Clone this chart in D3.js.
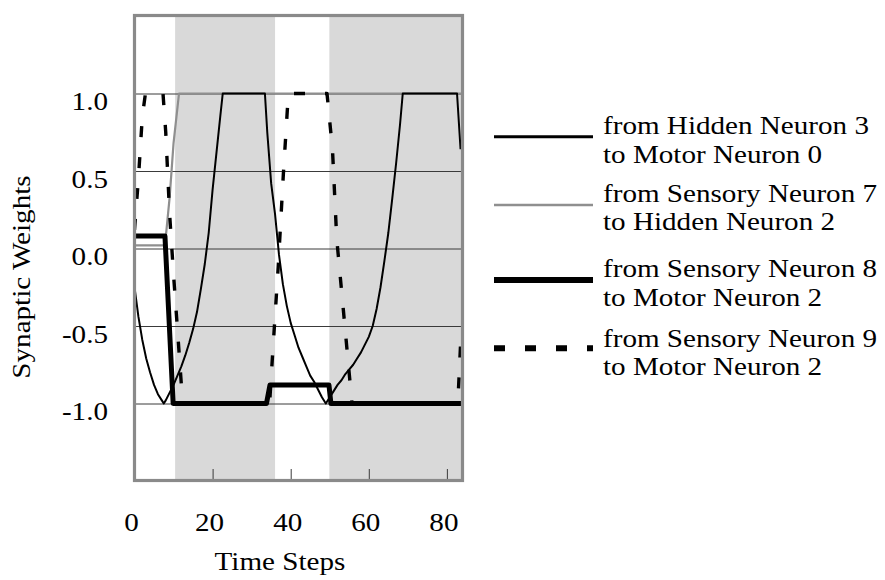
<!DOCTYPE html>
<html>
<head>
  <title>Synaptic Weights</title>
  <script src="https://d3js.org/d3.v7.min.js"></script>
  <style>
    body { margin: 0; background: #fff; }
    text { font-family: "Liberation Serif", "Times New Roman", serif; font-size: 26px; fill: #000; }
  </style>
</head>
<body>
  <div id="chart"></div>

  <script>
    // values
    var xTickValues = [20, 40, 60, 80];
    var xTickLabels = [0, 20, 40, 60, 80];
    var yTickValues = [-1, -0.5, 0, 0.5, 1];
    var yTickLabels = ['-1.0', '-0.5', '0.0', '0.5', '1.0'];
    var shadedPeriods = [[10.4, 36], [49.9, 84]];

    var seriesNames = [
      ['from Hidden Neuron 3', 'to Motor Neuron 0'],
      ['from Sensory Neuron 7', 'to Hidden Neuron 2'],
      ['from Sensory Neuron 8', 'to Motor Neuron 2'],
      ['from Sensory Neuron 9', 'to Motor Neuron 2']
    ];

    // [time step, weight]
    var hidden3ToMotor0 = [
      [0, -0.25], [1, -0.44], [2, -0.59], [3, -0.71], [4, -0.80], [5, -0.88], [6, -0.94], [7, -0.98],
      [7.5, -1.0], [8, -0.98], [9, -0.93], [10, -0.88], [11, -0.82], [12, -0.76], [13, -0.69],
      [14, -0.61], [15, -0.52], [16, -0.41], [17, -0.26], [18, -0.1], [19, 0.1], [20, 0.38],
      [21, 0.62], [22, 0.86], [22.6, 1.0], [33.4, 1.0], [34, 0.75], [35, 0.42], [36, 0.22],
      [37, -0.04], [38, -0.23], [39, -0.37], [40, -0.48], [41, -0.56], [42, -0.64], [43, -0.70],
      [44, -0.76], [45, -0.82], [46, -0.86], [47, -0.91], [48, -0.96], [49, -1.0], [50, -0.96],
      [51, -0.92], [52, -0.88], [53, -0.85], [54, -0.81], [55, -0.78], [56, -0.75], [57, -0.71],
      [58, -0.67], [59, -0.62], [60, -0.57], [61, -0.5], [62, -0.39], [63, -0.25], [64, -0.08],
      [65, 0.1], [66, 0.32], [67, 0.55], [68, 0.8], [68.7, 1.0], [82.6, 1.0], [83.5, 0.64]
    ];
    var sensory7ToHidden2 = [
      [0, 0.02], [7.8, 0.02], [9, 0.33], [10, 0.68], [11.4, 1.0], [84, 1.0]
    ];
    var sensory8ToMotor2 = [
      [0, 0.08], [7.8, 0.08], [9.9, -1.0], [33.8, -1.0], [34.7, -0.88], [49.8, -0.88], [50.3, -1.0], [84, -1.0]
    ];
    var sensory9ToMotor2 = [
      [0, 0.12], [1, 0.45], [2, 0.85], [2.8, 1.0], [7.3, 1.0], [8, 0.75], [9, 0.22], [10, -0.17],
      [11, -0.52], [12, -0.88], [12.4, -1.0], [34.6, -1.0], [35.3, -0.71], [36.8, -0.12], [38.1, 0.47],
      [39.4, 1.0], [49.3, 1.0], [50.7, 0.64], [51.8, 0.06], [53.5, -0.4], [55.7, -1.0], [82.8, -1.0],
      [83.5, -0.62]
    ];

    var W = 885, H = 580;
    var plot = { left: 134.5, right: 462.5, top: 16, bottom: 481 };

    var svg = d3.select('#chart').append('svg')
      .attr('width', W)
      .attr('height', H);

    var x = d3.scaleLinear().domain([0, 84]).range([plot.left, plot.right]);
    var y = d3.scaleLinear().domain([-1.5, 1.5]).range([plot.bottom, plot.top]);

    // Times on the original is a bit wider than Liberation Serif
    function addText(parent, px, py, str, anchor, rotate) {
      return parent.append('text')
        .attr('transform', 'translate(' + px + ',' + py + ')' + (rotate ? ' rotate(-90)' : '') + ' scale(1.12,1)')
        .attr('text-anchor', anchor)
        .text(str);
    }

    svg.append('defs').append('clipPath').attr('id', 'plot-clip')
      .append('rect')
      .attr('x', plot.left).attr('y', plot.top)
      .attr('width', plot.right - plot.left).attr('height', plot.bottom - plot.top);

    // shaded periods
    svg.selectAll('.shade')
      .data(shadedPeriods)
      .enter()
      .append('rect')
      .attr('class', 'shade')
      .attr('x', function(d) { return x(d[0]); })
      .attr('y', plot.top)
      .attr('width', function(d) { return x(d[1]) - x(d[0]); })
      .attr('height', plot.bottom - plot.top)
      .attr('fill', '#d9d9d9');

    // horizontal grid
    var grid = svg.append('g')
      .attr('transform', 'translate(' + plot.left + ',0)')
      .call(d3.axisLeft(y).tickValues(yTickValues).tickSize(-(plot.right - plot.left)).tickFormat(''));
    grid.select('.domain').remove();
    grid.selectAll('line').attr('stroke', '#3a3a3a').attr('stroke-width', 1);

    // x tick marks, inside the frame
    var xAxis = svg.append('g')
      .attr('transform', 'translate(0,' + plot.bottom + ')')
      .call(d3.axisTop(x).tickValues(xTickValues).tickSize(12).tickFormat(''));
    xAxis.select('.domain').remove();
    xAxis.selectAll('line').attr('stroke', '#3a3a3a').attr('stroke-width', 1);

    // series
    var line = d3.line()
      .x(function(d) { return x(d[0]); })
      .y(function(d) { return y(d[1]); });

    var styles = [
      { data: hidden3ToMotor0, color: '#000', width: 2, dash: null, legendWidth: 3 },
      { data: sensory7ToHidden2, color: '#8f8f8f', width: 2.2, dash: null, legendWidth: 2.6 },
      { data: sensory8ToMotor2, color: '#000', width: 5, dash: null, legendWidth: 6 },
      { data: sensory9ToMotor2, color: '#000', width: 3.4, dash: '11,20', legendWidth: 6 }
    ];
    var drawOrder = [1, 2, 0, 3];

    var lines = svg.append('g').attr('clip-path', 'url(#plot-clip)');
    drawOrder.forEach(function(i) {
      var s = styles[i];
      lines.append('path')
        .attr('d', line(s.data))
        .attr('fill', 'none')
        .attr('stroke', s.color)
        .attr('stroke-width', s.width)
        .attr('stroke-linejoin', 'round')
        .attr('stroke-dasharray', s.dash);
    });

    // frame
    svg.append('rect')
      .attr('x', plot.left)
      .attr('y', plot.top - 0.5)
      .attr('width', plot.right - plot.left)
      .attr('height', plot.bottom - plot.top)
      .attr('fill', 'none')
      .attr('stroke', '#8a8a8a')
      .attr('stroke-width', 3.2);

    // tick labels
    var labels = svg.append('g');
    yTickValues.forEach(function(v, i) {
      addText(labels, 108, y(v) + 16.5, yTickLabels[i], 'end');
    });
    xTickLabels.forEach(function(v) {
      addText(labels, x(v) - 3, 531, v, 'middle');
    });

    addText(svg, 280, 570, 'Time Steps', 'middle');
    addText(svg, 30, 277, 'Synaptic Weights', 'middle', true);

    // legend
    var legendLineY = [136.7, 205, 280, 348.3];
    var legendTextY = [134.3, 201.7, 277.3, 346.7];
    var legend = svg.append('g');
    styles.forEach(function(s, i) {
      legend.append('line')
        .attr('x1', 494).attr('x2', 593)
        .attr('y1', legendLineY[i]).attr('y2', legendLineY[i])
        .attr('stroke', s.color)
        .attr('stroke-width', s.legendWidth)
        .attr('stroke-dasharray', s.dash);
      addText(legend, 603, legendTextY[i], seriesNames[i][0], 'start');
      addText(legend, 603, legendTextY[i] + 28.5, seriesNames[i][1], 'start');
    });
  </script>
</body>
</html>
